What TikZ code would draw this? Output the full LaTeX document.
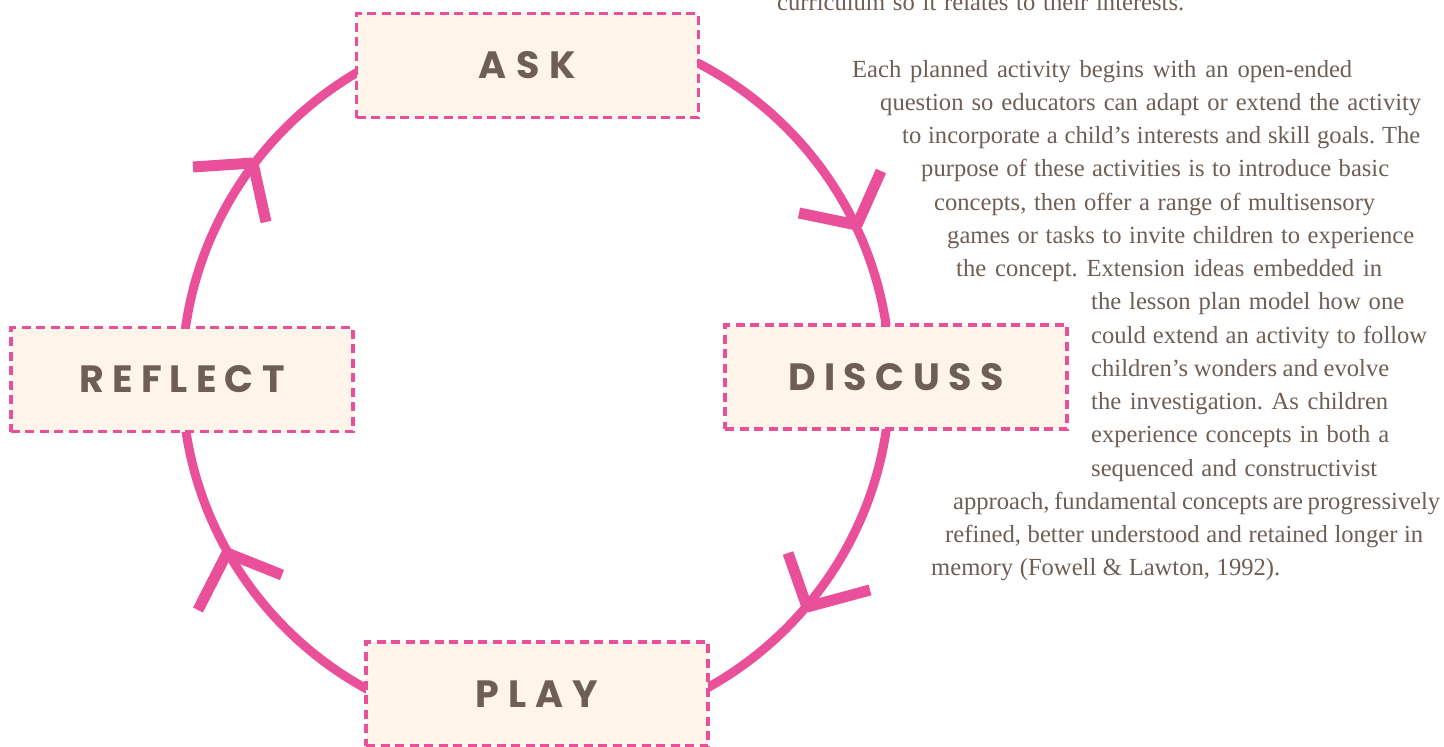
\documentclass[tikz,border=0pt]{standalone}
\usepackage{fontspec}
\setmainfont{Liberation Serif}
\newfontfamily\labelfont{Poppins}
\definecolor{cpink}{HTML}{EA4F99}
\definecolor{cream}{HTML}{FEF4EA}
\definecolor{tbrown}{HTML}{6E5E53}
\frenchspacing
\begin{document}
\begin{tikzpicture}[x=1bp,y=-1bp,
  boxstyle/.style={draw=cpink, fill=cream, line width=3.5bp, dash pattern=on 9bp off 5.5bp,
    minimum width=342bp, minimum height=104bp, inner sep=0pt},
  ring/.style={draw=cpink, line width=9bp},
  armstyle/.style={draw=cpink, line width=11bp, line cap=butt},
  body/.style={anchor=base west, inner sep=0pt, text=tbrown, font=\fontsize{24.6bp}{30bp}\selectfont\frenchspacing},
  lbl/.style={text=tbrown, font=\labelfont\bfseries\fontsize{38bp}{40bp}\selectfont}]
\useasboundingbox (0,0) rectangle (1444,746);

% cycle ring
\draw[ring] (536,378) circle[radius=354];

% arrowheads (clockwise flow)
\coordinate (trTip) at (857,225);
\draw[armstyle] (trTip) -- (799,213);
\draw[armstyle] (trTip) -- (881,171);
\coordinate (brTip) at (807,607);
\draw[armstyle] (brTip) -- (788,553);
\draw[armstyle] (brTip) -- (870,590);
\coordinate (blTip) at (227,553);
\draw[armstyle] (blTip) -- (198,610);
\draw[armstyle] (blTip) -- (282,575);
\coordinate (tlTip) at (253,163);
\draw[armstyle] (tlTip) -- (193,167);
\draw[armstyle] (tlTip) -- (266,222);

% boxes
\node[boxstyle, lbl] (ask) at (527.5,65.5) {\hbox to 98bp{A\hfill S\hfill K}};
\node[boxstyle, lbl] (discuss) at (896,377) {\hbox to 216bp{D\hfill I\hfill S\hfill C\hfill U\hfill S\hfill S}};
\node[boxstyle, lbl] (play) at (537,694) {\hbox to 123bp{P\hfill L\hfill A\hfill Y}};
\node[boxstyle, lbl] (reflect) at (182,379.5) {\hbox to 205bp{R\hfill E\hfill F\hfill L\hfill E\hfill C\hfill T}};

% body text
\node[body] (l0) at (777,10.5) {\makebox[407bp][s]{curriculum so it relates to their interests.}};
\node[body] (l1) at (852,77) {\makebox[500bp][s]{Each planned activity begins with an open-ended}};
\node[body] (l2) at (880,110.25) {\makebox[541bp][s]{question so educators can adapt or extend the activity}};
\node[body] (l3) at (902,143.5) {\makebox[518bp][s]{to incorporate a child’s interests and skill goals. The}};
\node[body] (l4) at (921,176.75) {\makebox[468bp][s]{purpose of these activities is to introduce basic}};
\node[body] (l5) at (934,210) {\makebox[441bp][s]{concepts, then offer a range of multisensory}};
\node[body] (l6) at (947,243.25) {\makebox[467bp][s]{games or tasks to invite children to experience}};
\node[body] (l7) at (956,276.5) {\makebox[426bp][s]{the concept. Extension ideas embedded in}};
\node[body] (l8) at (1091,309.75) {\makebox[313bp][s]{the lesson plan model how one}};
\node[body] (l9) at (1091,343) {\makebox[336bp][s]{could extend an activity to follow}};
\node[body] (l10) at (1091,376.25) {\makebox[298bp][s]{children’s wonders and evolve}};
\node[body] (l11) at (1091,409.5) {\makebox[297bp][s]{the investigation. As children}};
\node[body] (l12) at (1091,442.75) {\makebox[298bp][s]{experience concepts in both a}};
\node[body] (l13) at (1091,476) {\makebox[286bp][s]{sequenced and constructivist}};
\node[body] (l14) at (953,509.25) {\makebox[487bp][s]{approach, fundamental concepts are progressively}};
\node[body] (l15) at (945,542.5) {\makebox[478bp][s]{refined, better understood and retained longer in}};
\node[body] (l16) at (931,575.75) {\makebox[349bp][s]{memory (Fowell \& Lawton, 1992).}};
\end{tikzpicture}
\end{document}
